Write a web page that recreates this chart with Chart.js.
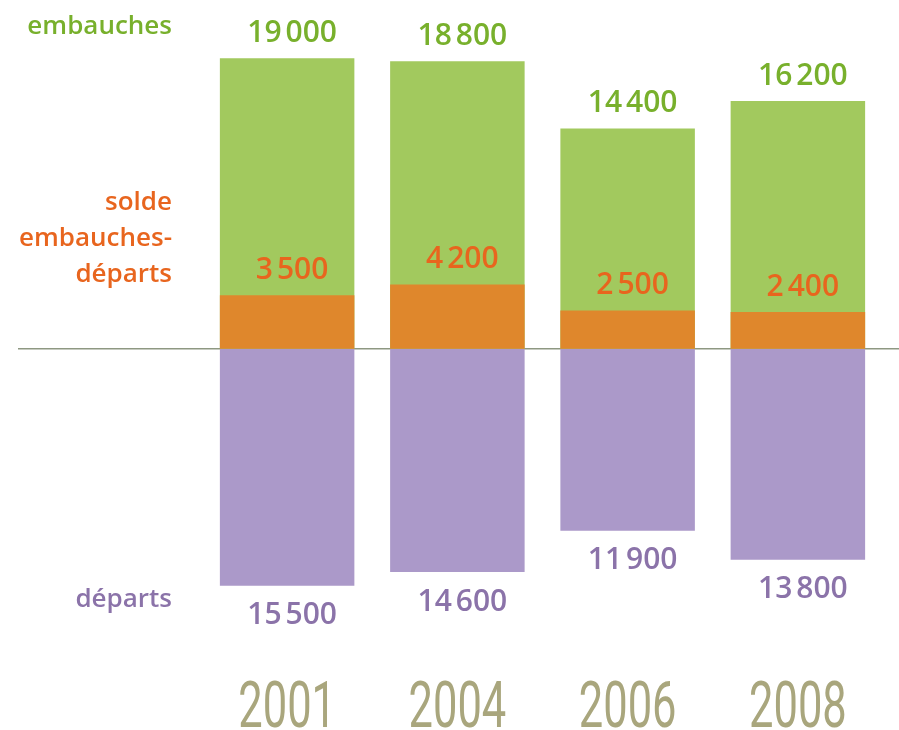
<!DOCTYPE html>
<html>
<head>
<meta charset="utf-8">
<script src="https://cdn.jsdelivr.net/npm/chart.js@4"></script>
<style>
  html, body { margin: 0; padding: 0; background: #fff; }
  #wrap { position: relative; width: 899px; height: 730px; }
</style>
</head>
<body>
<div id="wrap"><canvas id="chart"></canvas></div>
<script>
const years = ['2001', '2004', '2006', '2008'];
const embauches = [19000, 18800, 14400, 16200];
const departs = [15500, 14600, 11900, 13800];
const solde = [3500, 4200, 2500, 2400];

const GREEN = '#a2c95e';
const GREEN_TXT = '#78b02c';
const ORANGE = '#df872c';
const ORANGE_TXT = '#e8651e';
const PURPLE = '#ab99c9';
const PURPLE_TXT = '#8b73a9';
const YEAR_TXT = '#a9a67d';
const FONT = '"Open Sans", sans-serif';

function fmt(v) {
  const s = String(Math.abs(v));
  return s.length > 3 ? s.slice(0, -3) + '\u202F' + s.slice(-3) : s;
}

const decorations = {
  id: 'decorations',
  beforeDatasetsDraw(chart) {
    // zero line runs across the whole width
    const ctx = chart.ctx;
    const y0 = chart.scales.y.getPixelForValue(0);
    ctx.save();
    ctx.strokeStyle = '#8e9882';
    ctx.lineWidth = 1.5;
    ctx.beginPath();
    ctx.moveTo(18, y0);
    ctx.lineTo(chart.width, y0);
    ctx.stroke();
    ctx.restore();
  },
  afterDatasetsDraw(chart) {
    const ctx = chart.ctx;
    ctx.save();
    ctx.textAlign = 'center';
    ctx.textBaseline = 'middle';
    ctx.font = '600 30px ' + FONT;

    // value labels
    chart.data.datasets.forEach((ds, i) => {
      const meta = chart.getDatasetMeta(i);
      meta.data.forEach((bar, j) => {
        const v = ds.data[j];
        ctx.fillStyle = ds.labelColor;
        const y = v >= 0 ? bar.y - 25 : bar.y + 30;
        ctx.fillText(fmt(v), bar.x + 5, y);
      });
    });

    // series names on the left
    ctx.textAlign = 'right';
    ctx.font = '600 26px ' + FONT;
    ctx.fillStyle = GREEN_TXT;
    ctx.fillText('embauches', 172, 27);
    ctx.fillStyle = ORANGE_TXT;
    ctx.fillText('solde', 172, 203);
    ctx.fillText('embauches-', 172, 239);
    ctx.fillText('départs', 172, 275);
    ctx.fillStyle = PURPLE_TXT;
    ctx.fillText('départs', 172, 600);

    // years, condensed
    const xs = chart.scales.x;
    ctx.fillStyle = YEAR_TXT;
    ctx.textAlign = 'center';
    ctx.textBaseline = 'alphabetic';
    ctx.font = '400 64px Roboto, sans-serif';
    years.forEach((yr, i) => {
      ctx.save();
      ctx.translate(xs.getPixelForValue(i), 727);
      ctx.scale(0.68, 1);
      ctx.fillText(yr, 0, 0);
      ctx.restore();
    });
    ctx.restore();
  }
};

new Chart(document.getElementById('chart'), {
  type: 'bar',
  data: {
    labels: years,
    datasets: [
      {
        label: 'solde embauches-départs',
        data: solde,
        backgroundColor: ORANGE,
        labelColor: ORANGE_TXT,
        order: 0
      },
      {
        label: 'embauches',
        data: embauches,
        backgroundColor: GREEN,
        labelColor: GREEN_TXT,
        order: 1
      },
      {
        label: 'départs',
        data: departs.map((v) => -v),
        backgroundColor: PURPLE,
        labelColor: PURPLE_TXT,
        order: 2
      }
    ]
  },
  options: {
    responsive: true,
    maintainAspectRatio: false,
    animation: false,
    grouped: false,
    datasets: {
      bar: {
        grouped: false,
        barPercentage: 0.79,
        categoryPercentage: 1,
        borderWidth: 0
      }
    },
    layout: {
      padding: { left: 202, right: 16, top: 0, bottom: 60 }
    },
    scales: {
      x: { display: false },
      y: { display: false, min: -21000, max: 22800 }
    },
    plugins: {
      legend: { display: false },
      tooltip: { enabled: false }
    }
  },
  plugins: [decorations]
});
</script>
</body>
</html>
